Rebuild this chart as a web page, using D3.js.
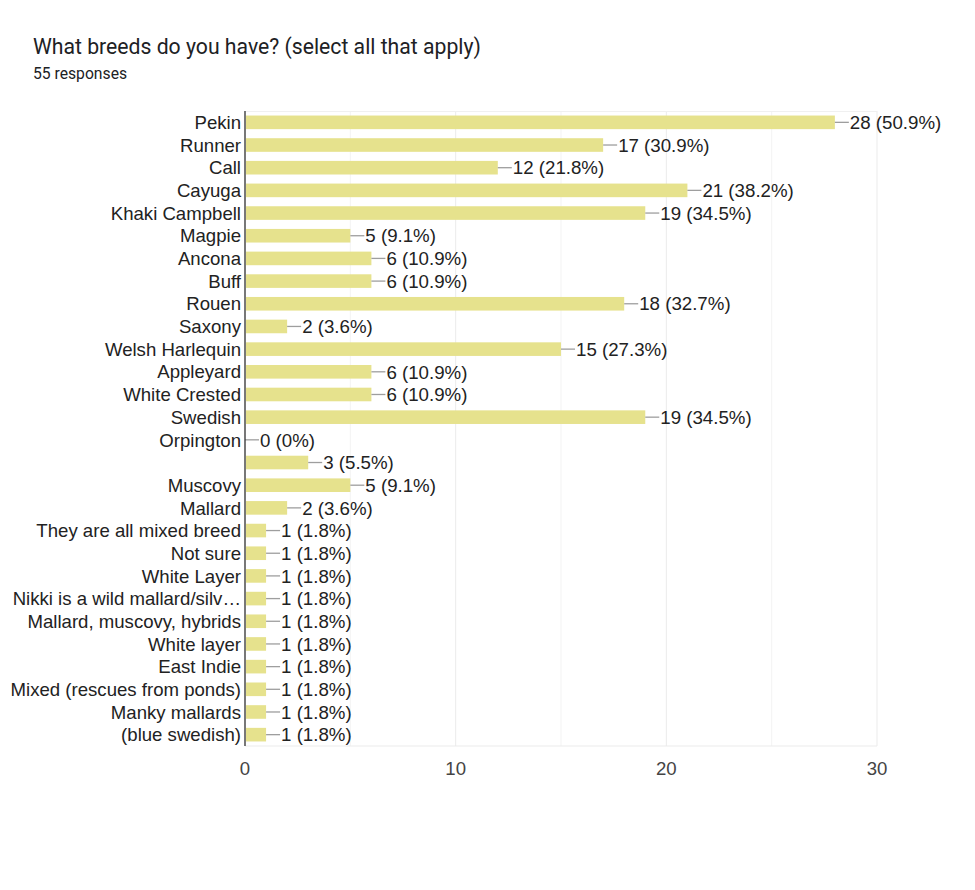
<!DOCTYPE html>
<html><head><meta charset="utf-8">
<script src="https://cdn.jsdelivr.net/npm/d3@7"></script>
<style>body{margin:0;background:#fff;} svg{display:block;font-family:"Liberation Sans",Arial,sans-serif;}</style>
</head><body>
<script>
const categories = ["Pekin","Runner","Call","Cayuga","Khaki Campbell","Magpie","Ancona","Buff","Rouen","Saxony","Welsh Harlequin","Appleyard","White Crested","Swedish","Orpington","","Muscovy","Mallard","They are all mixed breed","Not sure","White Layer","Nikki is a wild mallard/silv…","Mallard, muscovy, hybrids","White layer","East Indie","Mixed (rescues from ponds)","Manky mallards","(blue swedish)"];
const counts = [28,17,12,21,19,5,6,6,18,2,15,6,6,19,0,3,5,2,1,1,1,1,1,1,1,1,1,1];
const percents = ["50.9%","30.9%","21.8%","38.2%","34.5%","9.1%","10.9%","10.9%","32.7%","3.6%","27.3%","10.9%","10.9%","34.5%","0%","5.5%","9.1%","3.6%","1.8%","1.8%","1.8%","1.8%","1.8%","1.8%","1.8%","1.8%","1.8%","1.8%"];
const xTicks = [0,10,20,30];
const gridTicks = [0,5,10,15,20,25,30];
const title = "What breeds do you have? (select all that apply)";
const subtitle = "55 responses";

const W = 975, H = 890;
const svg = d3.select("body").append("svg").attr("width", W).attr("height", H);
const m = {left:245, right:98, top:111, bottom:144};
const x = d3.scaleLinear().domain([0,30]).range([m.left, W - m.right]);
const y = d3.scaleBand().domain(d3.range(categories.length)).range([m.top, H - m.bottom]).paddingInner(0.4).paddingOuter(0.2);

svg.append("text").attr("x",33).attr("y",54).attr("font-family","Roboto,Arial,sans-serif").attr("font-size",21.2).attr("fill","#202124").text(title);
svg.append("text").attr("x",33).attr("y",79).attr("font-family","Roboto,Arial,sans-serif").attr("font-size",15.7).attr("fill","#202124").text(subtitle);

// grid
svg.append("g").selectAll("line").data(gridTicks).join("line")
  .attr("x1",d=>x(d)).attr("x2",d=>x(d)).attr("y1",m.top).attr("y2",H-m.bottom)
  .attr("stroke",d=>d%10===0?"#ebebeb":"#f3f3f3").attr("stroke-width",1);
svg.append("line").attr("x1",m.left).attr("x2",W-m.right).attr("y1",m.top+0.5).attr("y2",m.top+0.5).attr("stroke","#f0f0f0");
svg.append("line").attr("x1",m.left).attr("x2",W-m.right).attr("y1",H-m.bottom).attr("y2",H-m.bottom).attr("stroke","#ebebeb");

// bars
const data = categories.map((c,i)=>({c, i, v:counts[i], p:percents[i]}));
svg.append("g").selectAll("rect").data(data).join("rect")
  .attr("x",x(0)+1).attr("y",d=>y(d.i)).attr("height",y.bandwidth())
  .attr("width",d=>Math.max(0,x(d.v)-x(0)-1)).attr("fill","#e6e28d");

// leader lines + labels
const g = svg.append("g").selectAll("g").data(data).join("g");
g.append("line").attr("x1",d=>x(d.v)).attr("x2",d=>x(d.v)+14)
  .attr("y1",d=>y(d.i)+y.bandwidth()/2).attr("y2",d=>y(d.i)+y.bandwidth()/2)
  .attr("stroke","#9e9e9e").attr("stroke-width",1.3);
g.append("text").attr("x",d=>x(d.v)+15).attr("y",d=>y(d.i)+y.bandwidth()/2).attr("dy","0.36em")
  .attr("font-size",18.7).attr("fill","#222").text(d=>`${d.v} (${d.p})`);

// category labels
svg.append("g").selectAll("text").data(data).join("text")
  .attr("x",m.left-4).attr("y",d=>y(d.i)+y.bandwidth()/2).attr("dy","0.36em")
  .attr("text-anchor","end").attr("font-size",18.6).attr("fill","#222").text(d=>d.c);

// axis line
svg.append("line").attr("x1",m.left).attr("x2",m.left).attr("y1",m.top).attr("y2",H-m.bottom)
  .attr("stroke","#333").attr("stroke-width",1.3);

// x tick labels
svg.append("g").selectAll("text").data(xTicks).join("text")
  .attr("x",d=>x(d)).attr("y",H-m.bottom+29).attr("text-anchor","middle")
  .attr("font-size",18.6).attr("fill","#444").text(d=>d);
</script>
</body></html>
